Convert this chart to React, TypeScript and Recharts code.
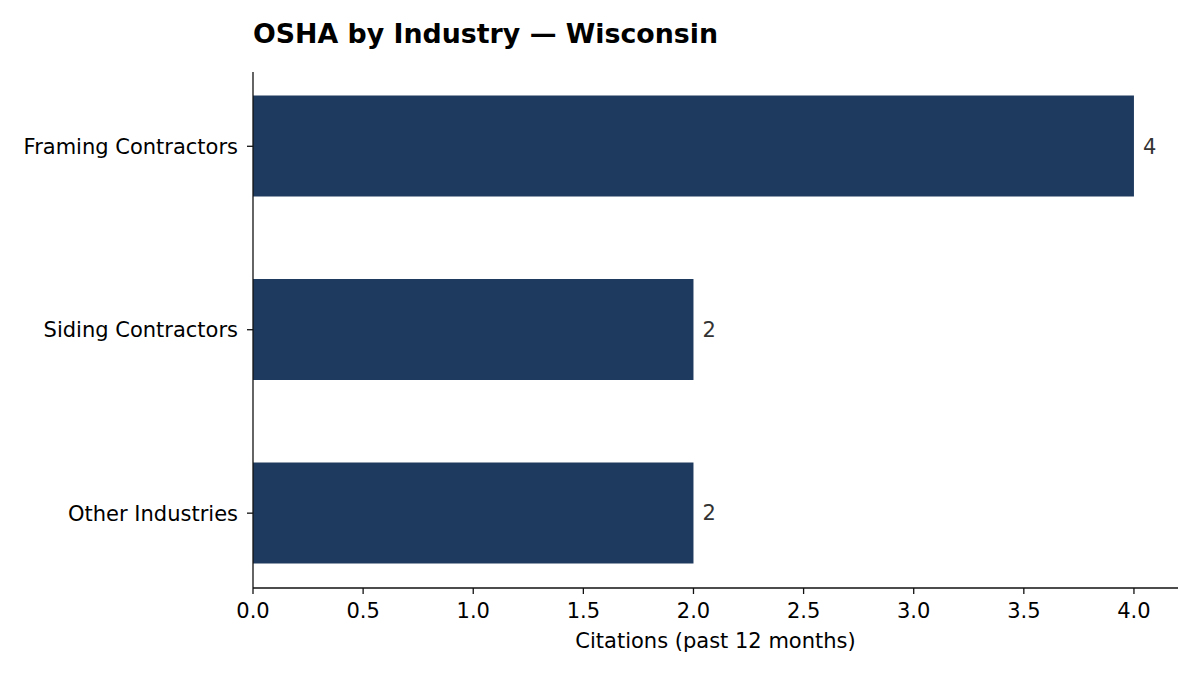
import { BarChart, Bar, XAxis, YAxis, LabelList } from "recharts"

// chart values
const industries = ["Framing Contractors", "Siding Contractors", "Other Industries"]
const citations = [4, 2, 2]
const xTicks = [0, 0.5, 1, 1.5, 2, 2.5, 3, 3.5, 4]
const rowTicks = [0, 1, 2]

const title = "OSHA by Industry — Wisconsin"
const xLabel = "Citations (past 12 months)"

const FONT = "'DejaVu Sans', sans-serif"
const BAR_COLOR = "#1f3a5f"
const AXIS_COLOR = "#111"
const TICK_SIZE = 21

// one row per industry, pos is the row slot on the y axis (0 = top)
const data = industries.map((industry, i) => ({
  industry,
  pos: i,
  citations: citations[i],
}))

export default function App() {
  return (
    <div style={{ position: "fixed", left: 0, top: 0, width: 1200, height: 675, background: "#fff" }}>
      <div
        style={{
          position: "absolute",
          left: 253,
          top: 20.6,
          fontFamily: FONT,
          fontWeight: "bold",
          fontSize: 26.8,
          lineHeight: 1,
          color: "#000",
          whiteSpace: "nowrap",
        }}
      >
        {title}
      </div>
      <BarChart
        width={1200}
        height={675}
        data={data}
        layout="vertical"
        margin={{ top: 72, right: 22, bottom: 0, left: 0 }}
      >
        <XAxis
          type="number"
          dataKey="citations"
          domain={[0, 4.2]}
          allowDataOverflow
          ticks={xTicks}
          interval={0}
          tickFormatter={(v: number) => v.toFixed(1)}
          height={87}
          tickSize={6}
          tickMargin={9}
          axisLine={{ stroke: AXIS_COLOR, strokeWidth: 1.3 }}
          tickLine={{ stroke: AXIS_COLOR, strokeWidth: 1.3 }}
          tick={{ fontSize: TICK_SIZE, fill: "#000", fontFamily: FONT }}
          label={{
            value: xLabel,
            position: "insideBottom",
            offset: 27,
            fontSize: TICK_SIZE,
            fill: "#000",
            fontFamily: FONT,
          }}
        />
        <YAxis
          type="number"
          dataKey="pos"
          domain={[-0.405, 2.408]}
          allowDataOverflow
          ticks={rowTicks}
          interval={0}
          tickFormatter={(v: number) => industries[v] ?? ""}
          width={253}
          tickSize={6}
          tickMargin={9}
          axisLine={{ stroke: AXIS_COLOR, strokeWidth: 1.3 }}
          tickLine={{ stroke: AXIS_COLOR, strokeWidth: 1.3 }}
          tick={{ fontSize: TICK_SIZE, fill: "#000", fontFamily: FONT }}
        />
        <Bar dataKey="citations" fill={BAR_COLOR} barSize={101} isAnimationActive={false}>
          <LabelList
            dataKey="citations"
            position="right"
            offset={9}
            fill="#333"
            fontSize={TICK_SIZE}
            fontFamily={FONT}
          />
        </Bar>
      </BarChart>
    </div>
  )
}
